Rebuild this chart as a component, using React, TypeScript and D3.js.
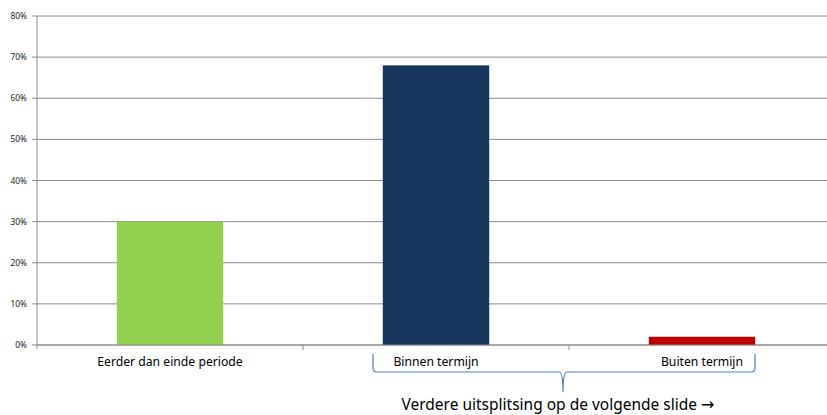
import React from "react";
import * as d3 from "d3";

const categories = ["Eerder dan einde periode", "Binnen termijn", "Buiten termijn"];
const values = [0.30, 0.68, 0.02];
const colors = ["#92D050", "#17375E", "#C00000"];
const yTicks = [0, 0.1, 0.2, 0.3, 0.4, 0.5, 0.6, 0.7, 0.8];
const footnote = "Verdere uitsplitsing op de volgende slide ";
const arrow = "\u2192";

export default function App() {
  const W = 827, H = 415;
  const left = 37, right = 835, top = 16, bottom = 345;
  const x = d3.scaleBand<string>().domain(categories).range([left, right]).paddingInner(0).paddingOuter(0);
  const y = d3.scaleLinear().domain([0, 0.8]).range([bottom, top]);
  const bw = x.bandwidth() * 0.4;
  const fmt = d3.format(".0%");
  const font = "'Noto Sans', 'Open Sans', sans-serif";

  const bx0 = (x(categories[1]) as number) + x.bandwidth() / 2 - 63;
  const bx1 = (x(categories[2]) as number) + x.bandwidth() / 2 + 53;
  const bm = (x(categories[2]) as number) - 6;
  const by0 = 354, by1 = 372, by2 = 392;
  const r = 4;
  const brace =
    `M${bx0},${by0} L${bx0},${by1 - r} Q${bx0},${by1} ${bx0 + r},${by1} ` +
    `L${bm - r},${by1} Q${bm},${by1} ${bm},${by2} Q${bm},${by1} ${bm + r},${by1} ` +
    `L${bx1 - r},${by1} Q${bx1},${by1} ${bx1},${by1 - r} L${bx1},${by0}`;

  return (
    <svg width={W} height={H} style={{ position: "absolute", left: 0, top: 0, background: "#fff" }}>
      {yTicks.map((t) => (
        <g key={t}>
          <line x1={left - 5} x2={W} y1={y(t)} y2={y(t)} stroke="#8c8c8c" strokeWidth={1} />
          <text x={27} y={y(t) + 3} textAnchor="end" fontFamily={font} fontSize={8.3} fill="#222">
            {fmt(t)}
          </text>
        </g>
      ))}
      <line x1={left} x2={left} y1={top} y2={bottom + 4} stroke="#8c8c8c" strokeWidth={1} />
      {categories.slice(1).map((c) => (
        <line key={c} x1={x(c)} x2={x(c)} y1={bottom} y2={bottom + 5} stroke="#8c8c8c" strokeWidth={1} />
      ))}
      {categories.map((c, i) => (
        <rect
          key={c}
          x={(x(c) as number) + (x.bandwidth() - bw) / 2}
          y={y(values[i])}
          width={bw}
          height={bottom - y(values[i])}
          fill={colors[i]}
        />
      ))}
      <line x1={left} x2={W} y1={bottom} y2={bottom} stroke="#8c8c8c" strokeWidth={1} />
      {categories.map((c) => (
        <text
          key={c}
          x={(x(c) as number) + x.bandwidth() / 2}
          y={366}
          textAnchor="middle"
          fontFamily={font}
          fontSize={12.2}
          fill="#000"
        >
          {c}
        </text>
      ))}
      <path d={brace} fill="none" stroke="#4F81BD" strokeWidth={1.2} />
      <text x={558} y={410} textAnchor="middle" fontFamily={font} fontSize={15.5} fill="#000">
        {footnote}
        <tspan fontFamily="'DejaVu Sans', sans-serif" fontSize={16}>{arrow}</tspan>
      </text>
    </svg>
  );
}
